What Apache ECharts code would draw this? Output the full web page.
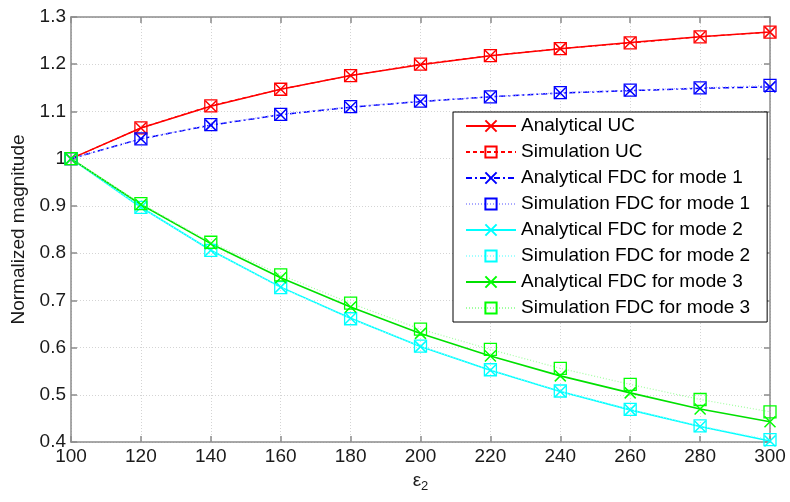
<!DOCTYPE html>
<html>
<head>
<meta charset="utf-8">
<script src="https://cdn.jsdelivr.net/npm/echarts@6/dist/echarts.min.js"></script>
<style>
  html, body { margin: 0; padding: 0; background: #fff; }
  #chart { width: 790px; height: 502px; }
</style>
</head>
<body>
<div id="chart"></div>
<script>
// Permittivity sweep (x axis) and normalized magnitudes for each curve
const eps2 = [100, 120, 140, 160, 180, 200, 220, 240, 260, 280, 300];
const analyticalUC   = [1, 1.065, 1.111, 1.147, 1.176, 1.199, 1.218, 1.233, 1.246, 1.258, 1.268];
const simulationUC   = [1, 1.065, 1.112, 1.147, 1.176, 1.200, 1.218, 1.233, 1.245, 1.258, 1.268];
const analyticalFDC1 = [1, 1.042, 1.071, 1.093, 1.109, 1.121, 1.131, 1.139, 1.144, 1.149, 1.152];
const simulationFDC1 = [1, 1.042, 1.072, 1.094, 1.110, 1.122, 1.131, 1.140, 1.145, 1.150, 1.155];
const analyticalFDC2 = [1, 0.897, 0.806, 0.728, 0.662, 0.602, 0.552, 0.507, 0.468, 0.433, 0.402];
const simulationFDC2 = [1, 0.897, 0.806, 0.727, 0.661, 0.603, 0.553, 0.508, 0.469, 0.434, 0.405];
const analyticalFDC3 = [1, 0.903, 0.820, 0.748, 0.686, 0.630, 0.582, 0.540, 0.504, 0.470, 0.443];
const simulationFDC3 = [1, 0.905, 0.823, 0.754, 0.694, 0.639, 0.596, 0.556, 0.522, 0.490, 0.464];

const xTicks = [100, 120, 140, 160, 180, 200, 220, 240, 260, 280, 300];
const yTicks = [0.4, 0.5, 0.6, 0.7, 0.8, 0.9, 1, 1.1, 1.2, 1.3];

const FONT = 'Liberation Sans, Arial, sans-serif';
const CROSS = 'path://M0,0L10,10M0,10L10,0';

function pairs(vals) { return eps2.map((x, i) => [x, vals[i]]); }

function makeSeries(name, vals, color, lineColor, lineType, lineWidth, marker) {
  return {
    name: name,
    type: 'line',
    data: pairs(vals),
    symbol: marker === 'x' ? CROSS : 'rect',
    symbolSize: marker === 'x' ? 11 : 12,
    showAllSymbol: true,
    lineStyle: { color: lineColor, width: lineWidth, type: lineType },
    itemStyle: { color: 'rgba(0,0,0,0)', borderColor: color, borderWidth: marker === 'x' ? 1.5 : 1.3 },
    emphasis: { disabled: true },
    animation: false
  };
}

const series = [
  makeSeries('Analytical UC', analyticalUC, '#ff0000', '#ff0000', 'solid', 1.5, 'x'),
  makeSeries('Simulation UC', simulationUC, '#ff0000', '#ff0000', [4, 3], 1.2, 'sq'),
  makeSeries('Analytical FDC for mode 1', analyticalFDC1, '#0000ff', '#0000ff', [6, 3, 2, 3], 1.5, 'x'),
  makeSeries('Simulation FDC for mode 1', simulationFDC1, '#0000ff', '#a8a8ff', [1, 2], 1.2, 'sq'),
  makeSeries('Analytical FDC for mode 2', analyticalFDC2, '#00ffff', '#00ffff', 'solid', 1.6, 'x'),
  makeSeries('Simulation FDC for mode 2', simulationFDC2, '#00ffff', '#a0ffff', [1, 2], 1.2, 'sq'),
  makeSeries('Analytical FDC for mode 3', analyticalFDC3, '#00ff00', '#00e000', 'solid', 1.6, 'x'),
  makeSeries('Simulation FDC for mode 3', simulationFDC3, '#00ff00', '#a0ffa0', [1, 2], 1.2, 'sq')
];

const axisLineStyle = { color: '#8c8c8c', width: 1.5 };
const labelStyle = { color: '#1a1a1a', fontSize: 19, fontFamily: FONT };

const chart = echarts.init(document.getElementById('chart'), null, { renderer: 'canvas' });
chart.setOption({
  backgroundColor: '#ffffff',
  animation: false,
  grid: { left: 71, top: 17, right: 20, bottom: 60, containLabel: false },
  legend: {
    orient: 'vertical',
    left: 453,
    top: 112,
    padding: [4, 17, 4, 12],
    itemGap: 6,
    itemWidth: 50,
    itemHeight: 14,
    backgroundColor: '#ffffff',
    borderColor: '#000000',
    borderWidth: 1,
    textStyle: { color: '#000', fontSize: 19, fontFamily: FONT, lineHeight: 20 },
    data: series.map(s => s.name)
  },
  xAxis: [
    {
      type: 'value', min: 100, max: 300, interval: 20,
      name: '{e|ε}{s|2}', nameLocation: 'middle', nameGap: 25,
      nameTextStyle: {
        rich: {
          e: { fontSize: 19, fontFamily: FONT, color: '#1a1a1a' },
          s: { fontSize: 13, fontFamily: FONT, color: '#1a1a1a', verticalAlign: 'bottom', padding: [12, 0, 0, 0] }
        }
      },
      axisLine: { show: true, lineStyle: axisLineStyle },
      axisTick: { show: true, inside: true, length: 6, lineStyle: axisLineStyle },
      axisLabel: Object.assign({ margin: 5, customValues: xTicks }, labelStyle),
      splitLine: { show: true, lineStyle: { color: '#d4d4d4', type: [1, 2], width: 1 } }
    },
    {
      type: 'value', min: 100, max: 300, interval: 20, position: 'top',
      axisLine: { show: true, lineStyle: axisLineStyle },
      axisTick: { show: true, inside: true, length: 6, lineStyle: axisLineStyle },
      axisLabel: { show: false },
      splitLine: { show: false }
    }
  ],
  yAxis: [
    {
      type: 'value', min: 0.4, max: 1.3, interval: 0.1,
      name: 'Normalized magnitude', nameLocation: 'middle', nameGap: 40,
      nameTextStyle: { fontSize: 19, fontFamily: FONT, color: '#1a1a1a' },
      axisLine: { show: true, lineStyle: axisLineStyle },
      axisTick: { show: true, inside: true, length: 6, lineStyle: axisLineStyle },
      axisLabel: Object.assign({ margin: 5, customValues: yTicks, formatter: v => String(Math.round(v * 10) / 10) }, labelStyle),
      splitLine: { show: true, lineStyle: { color: '#d4d4d4', type: [1, 2], width: 1 } }
    },
    {
      type: 'value', min: 0.4, max: 1.3, interval: 0.1, position: 'right',
      axisLine: { show: true, lineStyle: axisLineStyle },
      axisTick: { show: true, inside: true, length: 6, lineStyle: axisLineStyle },
      axisLabel: { show: false },
      splitLine: { show: false }
    }
  ],
  series: series
});
</script>
</body>
</html>
